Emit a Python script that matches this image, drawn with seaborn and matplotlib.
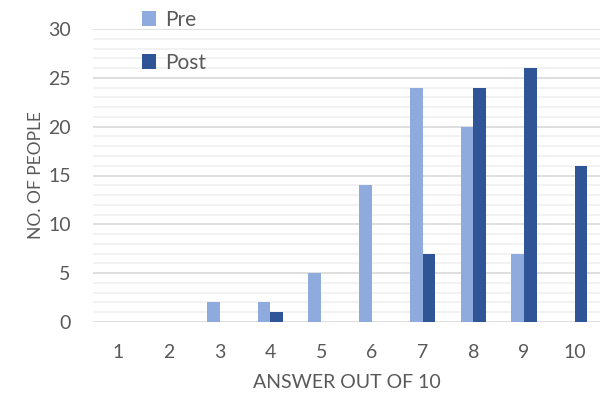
import matplotlib
matplotlib.use("Agg")
import matplotlib.pyplot as plt
import seaborn as sns
import pandas as pd
from matplotlib.ticker import MultipleLocator
from matplotlib.patches import Patch

# Survey scores before and after
answers = ["1", "2", "3", "4", "5", "6", "7", "8", "9", "10"]
pre_counts = [0, 0, 2, 2, 5, 14, 24, 20, 7, 0]
post_counts = [0, 0, 0, 1, 0, 0, 7, 24, 26, 16]
series_names = ["Pre", "Post"]
colors = ["#8FAADC", "#2F5597"]

df = pd.DataFrame({
    "answer": answers * 2,
    "count": pre_counts + post_counts,
    "series": [series_names[0]] * len(answers) + [series_names[1]] * len(answers),
})

sns.set_theme(style="white")
plt.rcParams["font.family"] = ["Lato", "DejaVu Sans"]
text_color = "#595959"

fig = plt.figure(figsize=(6, 4), dpi=100)
ax = fig.add_axes([0.155, 0.195, 0.845, 0.7325])

sns.barplot(data=df, x="answer", y="count", hue="series", order=answers,
            hue_order=series_names, palette=colors, width=0.5, gap=0,
            saturation=1, linewidth=0, ax=ax, legend=False)

ax.set_xlim(-0.5, 9.5)
ax.set_ylim(0, 30)
ax.yaxis.set_major_locator(MultipleLocator(5))
ax.yaxis.set_minor_locator(MultipleLocator(1))
ax.grid(axis="y", which="major", color="#D9D9D9", linewidth=1.2)
ax.grid(axis="y", which="minor", color="#F0F0F0", linewidth=1.2)
ax.grid(axis="x", visible=False)
ax.set_axisbelow(True)
for s in ax.spines.values():
    s.set_visible(False)

ax.tick_params(axis="x", length=0, pad=16, labelsize=14, labelcolor=text_color)
ax.tick_params(axis="y", which="both", length=0, pad=16, labelsize=14, labelcolor=text_color)

ax.set_xlabel("ANSWER OUT OF 10", fontsize=14, color=text_color, labelpad=9)
ax.set_ylabel("NO. OF PEOPLE", fontsize=12.5, color=text_color, labelpad=3)

handles = [Patch(facecolor=c, edgecolor="none") for c in colors]
fig.legend(handles, series_names, loc="upper left", bbox_to_anchor=(0.205, 1.022),
           frameon=False, fontsize=15, labelcolor=text_color, handlelength=0.7,
           handleheight=0.7, handletextpad=0.4, labelspacing=1.1)

fig.savefig("out.png", dpi=100)
